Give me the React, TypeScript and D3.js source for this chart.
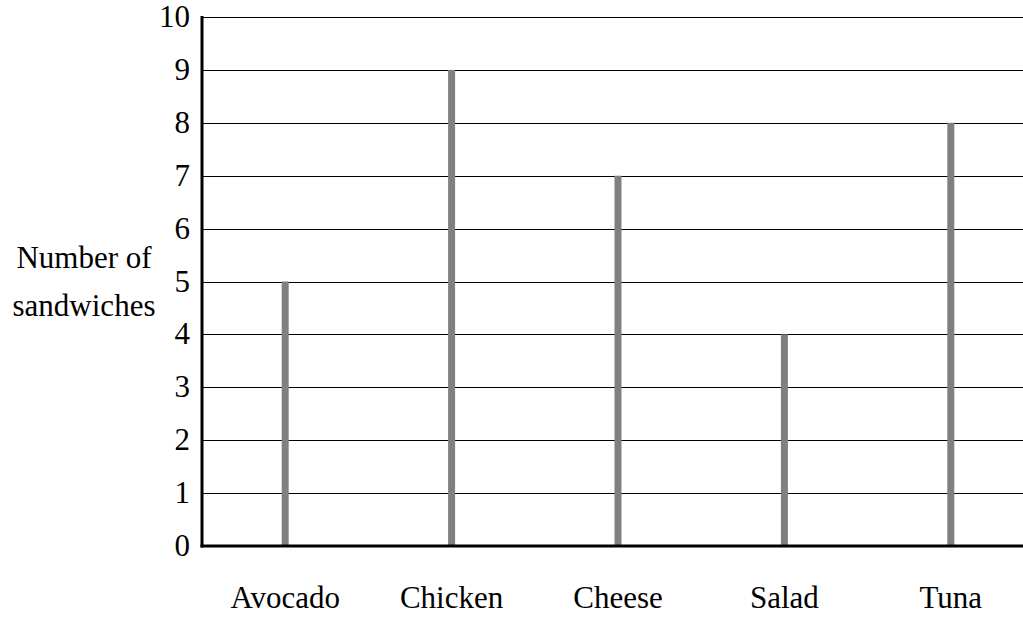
import * as d3 from 'd3'

const sandwiches = ['Avocado', 'Chicken', 'Cheese', 'Salad', 'Tuna']
const counts = [5, 9, 7, 4, 8]
const yTicks = [0, 1, 2, 3, 4, 5, 6, 7, 8, 9, 10]

const W = 1023
const H = 619
const serif = { fontFamily: "'Liberation Serif', 'Times New Roman', 'Noto Serif', serif", fontSize: '31px' }

const App = () => {
  const x = d3.scaleBand<string>().domain(sandwiches).range([202, 1034]).padding(0)
  const y = d3.scaleLinear().domain([0, 10]).range([546, 17])
  const left = 202
  const right = W
  const barW = 7

  return (
    <svg width={W} height={H} style={{ position: 'absolute', left: 0, top: 0 }}>
      {/* grid lines */}
      {yTicks.filter(d => d > 0).map(d => (
        <line key={'g' + d} x1={left} x2={right} y1={Math.round(y(d)) + 0.5} y2={Math.round(y(d)) + 0.5}
          stroke="#000" strokeWidth={1} />
      ))}
      {/* bars */}
      {counts.map((d, i) => (
        <rect key={sandwiches[i]}
          x={(x(sandwiches[i]) || 0) + x.bandwidth() / 2 - barW / 2}
          width={barW}
          y={y(d)}
          height={y(0) - y(d)}
          fill="#808080" />
      ))}
      {/* axes */}
      <line x1={left} x2={left} y1={y(10) - 1} y2={y(0) + 1.5} stroke="#000" strokeWidth={3} />
      <line x1={left - 1.5} x2={right} y1={y(0)} y2={y(0)} stroke="#000" strokeWidth={3} />
      {/* y tick labels */}
      {yTicks.map(d => (
        <text key={'t' + d} x={190} y={y(d) + 10} textAnchor="end" style={serif}>{String(d)}</text>
      ))}
      {/* x labels */}
      {sandwiches.map(s => (
        <text key={'l' + s} x={(x(s) || 0) + x.bandwidth() / 2} y={608} textAnchor="middle" style={serif}>{s}</text>
      ))}
      {/* y title */}
      <text x={84} y={268} textAnchor="middle" style={serif}>Number of</text>
      <text x={84} y={316} textAnchor="middle" style={serif}>sandwiches</text>
    </svg>
  )
}

export default App
